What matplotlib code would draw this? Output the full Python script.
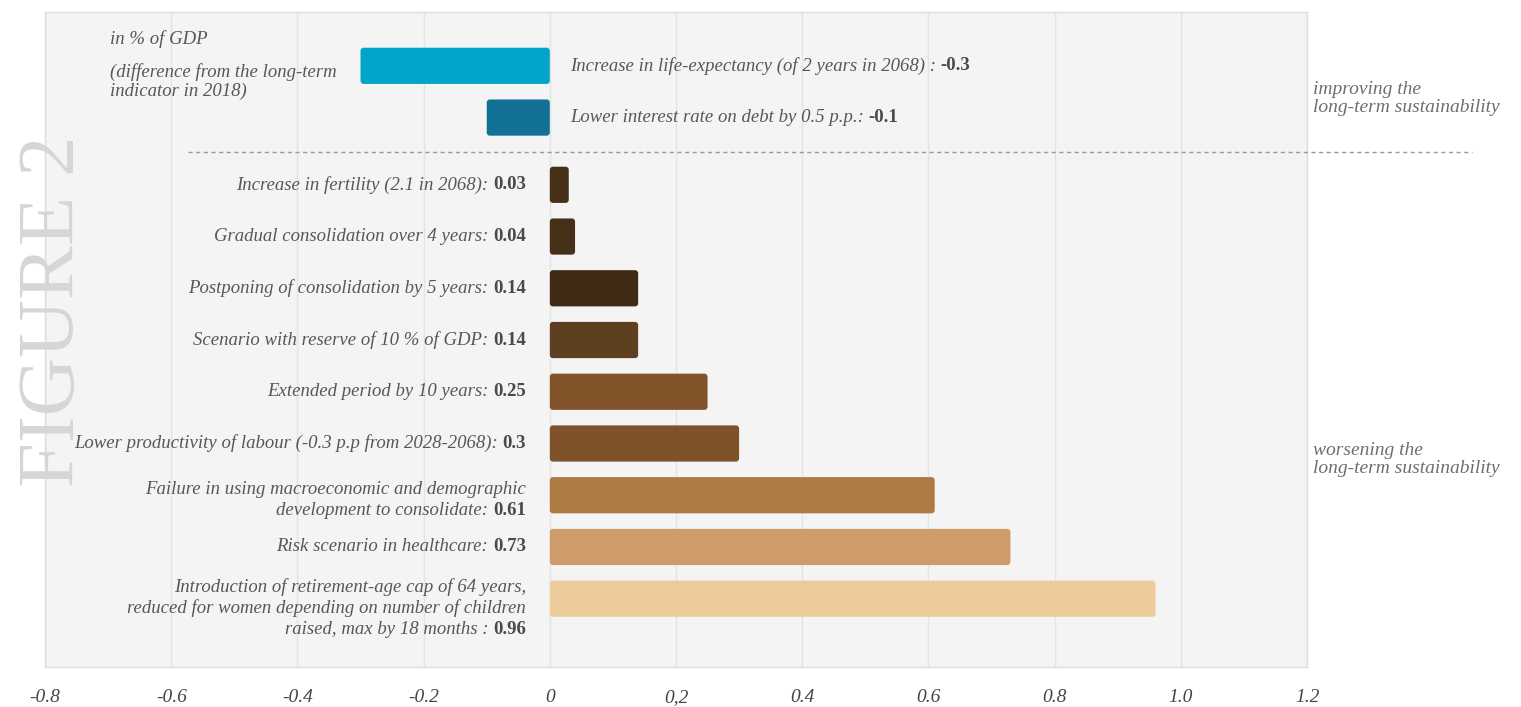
import matplotlib.pyplot as plt
from matplotlib.patches import FancyBboxPatch
from matplotlib.transforms import offset_copy

# scenario labels (text part) and the bold value shown after them
label_lines = [
    ["Increase in life-expectancy (of 2 years in 2068) : "],
    ["Lower interest rate on debt by 0.5 p.p.: "],
    ["Increase in fertility (2.1 in 2068): "],
    ["Gradual consolidation over 4 years: "],
    ["Postponing of consolidation by 5 years: "],
    ["Scenario with reserve of 10 % of GDP: "],
    ["Extended period by 10 years: "],
    ["Lower productivity of labour (-0.3 p.p from 2028-2068): "],
    ["Failure in using macroeconomic and demographic",
     "development to consolidate: "],
    ["Risk scenario in healthcare: "],
    ["Introduction of retirement-age cap of 64 years,",
     "reduced for women depending on number of children",
     "raised, max by 18 months : "],
]
value_labels = ["-0.3", "-0.1", "0.03", "0.04", "0.14", "0.14", "0.25",
                "0.3", "0.61", "0.73", "0.96"]
values = [-0.3, -0.1, 0.03, 0.04, 0.14, 0.14, 0.25, 0.3, 0.61, 0.73, 0.96]
bar_colors = ["#02a4c9", "#137196", "#47301a", "#47301a", "#3f2a16",
              "#5e3f20", "#815328", "#7f5229", "#ad7a42", "#ce9b6a",
              "#eecb9b"]

tick_vals = [-0.8, -0.6, -0.4, -0.2, 0, 0.2, 0.4, 0.6, 0.8, 1.0, 1.2]
tick_text = ["-0.8", "-0.6", "-0.4", "-0.2", "0", "0,2", "0.4", "0.6",
             "0.8", "1.0", "1.2"]

# bar rows: two "improving" rows, a gap, then the "worsening" rows
rows = [0, 1] + [2.3 + k for k in range(9)]

serif = ["Liberation Serif", "DejaVu Serif"]
txt_col = "#575757"
fs = 13.5

fig = plt.figure(figsize=(15.21, 7.07), dpi=100)
fig.patch.set_facecolor("white")
ax = fig.add_axes([0.0296, 0.0566, 0.8297, 0.9264])
ax.set_facecolor("#f4f4f4")

ax.set_xlim(-0.8, 1.2)
ax.set_ylim(11.62, -1.04)

bars = ax.barh(rows, values, height=0.7, color=bar_colors, zorder=3)
# swap the plain rectangles for slightly rounded ones
aspect = (1262 / 2.0) / (655 / 12.66)
for p in bars.patches:
    x0, y0, w, h = p.get_x(), p.get_y(), p.get_width(), p.get_height()
    if w < 0:
        x0, w = x0 + w, -w
    p.set_visible(False)
    ax.add_patch(FancyBboxPatch((x0, y0), w, h,
                                boxstyle="round,pad=0,rounding_size=0.005",
                                mutation_aspect=aspect,
                                facecolor=p.get_facecolor(),
                                edgecolor="none", zorder=3))

ax.set_xticks(tick_vals)
ax.set_xticklabels(tick_text, fontfamily=serif, fontstyle="italic",
                   fontsize=14, color="#444444")
ax.tick_params(axis="x", length=0, pad=16)
ax.set_yticks([])
ax.grid(axis="x", color="#e4e4e4", linewidth=1, zorder=0)
for s in ax.spines.values():
    s.set_color("#dcdcdc")
    s.set_linewidth(1)

# dashed separator, running past the right edge of the plot
ax.plot([-0.573, 1.462], [1.66, 1.66], ls=(0, (3, 2.5)), color="#9a9a9a",
        lw=1, clip_on=False, zorder=4)

fig.canvas.draw()
line_gap = 15.5  # points

for i, (lines, val) in enumerate(zip(label_lines, value_labels)):
    y = rows[i]
    n = len(lines)
    if values[i] < 0:
        t = ax.text(0.032, y, lines[0], ha="left", va="center",
                    fontfamily=serif, fontstyle="italic", fontsize=fs,
                    color=txt_col, zorder=5)
        ax.annotate(val, xy=(1, 0.5), xycoords=t, ha="left", va="center",
                    fontfamily=serif, fontweight="bold", fontsize=fs,
                    color="#4a4a4a", zorder=5)
        continue
    shift = -(n - 1) * 3.5
    for k, line in enumerate(lines):
        dy = ((n - 1) / 2 - k) * line_gap + shift
        tr = offset_copy(ax.transData, fig=fig, y=dy, units="points")
        if k < n - 1:
            ax.text(-0.038, y, line, transform=tr, ha="right", va="center",
                    fontfamily=serif, fontstyle="italic", fontsize=fs,
                    color=txt_col, zorder=5)
        else:
            b = ax.text(-0.038, y, val, transform=tr, ha="right",
                        va="center", fontfamily=serif, fontweight="bold",
                        fontsize=fs, color="#4a4a4a", zorder=5)
            ax.annotate(line, xy=(0, 0.5), xycoords=b, ha="right",
                        va="center", fontfamily=serif, fontstyle="italic",
                        fontsize=fs, color=txt_col, zorder=5)

# unit note in the top-left corner
fig.text(0.0723, 0.945, "in % of GDP", ha="left", va="center",
         fontfamily=serif, fontstyle="italic", fontsize=fs, color=txt_col)
fig.text(0.0723, 0.885, "(difference from the long-term\nindicator in 2018)",
         ha="left", va="center", fontfamily=serif, fontstyle="italic",
         fontsize=fs, color=txt_col, linespacing=1.15)

# side notes
fig.text(0.863, 0.861, "improving the\nlong-term sustainability", ha="left",
         va="center", fontfamily=serif, fontstyle="italic", fontsize=14,
         color="#6e6e6e", linespacing=1.05)
fig.text(0.863, 0.350, "worsening the\nlong-term sustainability", ha="left",
         va="center", fontfamily=serif, fontstyle="italic", fontsize=14,
         color="#6e6e6e", linespacing=1.05)

fig.text(0.036, 0.56, "FIGURE 2", rotation=90, ha="center", va="center",
         fontfamily=serif, fontsize=58, color="#d6d6d6", zorder=10)

fig.savefig("out.png", dpi=100, facecolor="white")
